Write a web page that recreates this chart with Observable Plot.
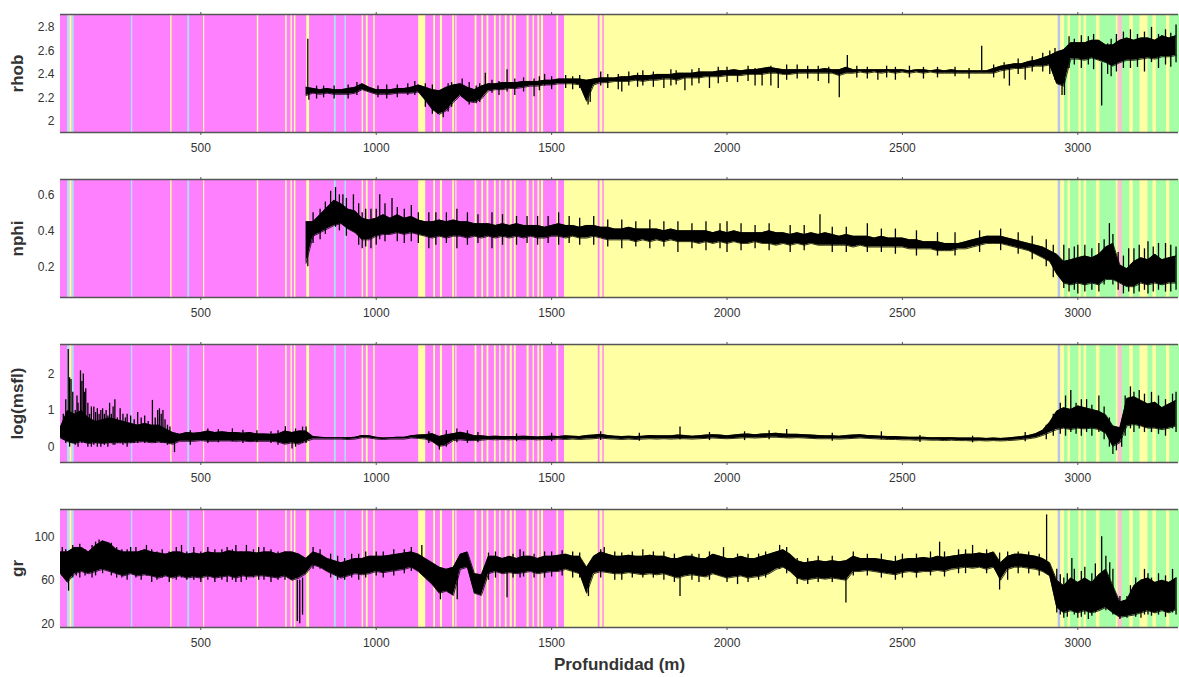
<!DOCTYPE html>
<html><head><meta charset="utf-8">
<script src="https://cdn.jsdelivr.net/npm/d3@7"></script>
<script src="https://cdn.jsdelivr.net/npm/@observablehq/plot@0.6"></script>
<style>
body{margin:0;background:#fff;}
#chart svg{display:block;}
g[aria-label="y-axis label"] text, g[aria-label="x-axis label"] text{font-size:17px;font-weight:bold;fill:#333;}
</style></head><body><div id="chart"></div>
<script>
// depth sampling (m)
const depth = [
100,120,140,160,180,200,220,240,260,280,
300,320,340,360,380,400,420,440,460,480,
500,520,540,560,580,600,620,640,660,680,
700,720,740,760,780,800,820,840,860,880,
900,920,940,960,980,1000,1020,1040,1060,1080,
1100,1120,1140,1160,1180,1200,1220,1240,1260,1280,
1300,1320,1340,1360,1380,1400,1420,1440,1460,1480,
1500,1520,1540,1560,1580,1600,1620,1640,1660,1680,
1700,1720,1740,1760,1780,1800,1820,1840,1860,1880,
1900,1920,1940,1960,1980,2000,2020,2040,2060,2080,
2100,2120,2140,2160,2180,2200,2220,2240,2260,2280,
2300,2320,2340,2360,2380,2400,2420,2440,2460,2480,
2500,2520,2540,2560,2580,2600,2620,2640,2660,2680,
2700,2720,2740,2760,2780,2800,2820,2840,2860,2880,
2900,2920,2940,2960,2980,3000,3020,3040,3060,3080,
3100,3120,3140,3160,3180,3200,3220,3240,3260,3280];
const N = null;
const rhobLo = [
N,N,N,N,N,N,N,N,N,N, N,N,N,N,N,N,N,N,N,N, N,N,N,N,N,N,N,N,N,N,
N,N,N,N,N,2.22,2.24,2.23,2.24,2.23,
2.23,2.23,2.24,2.27,2.25,2.23,2.23,2.23,2.24,2.24,
2.24,2.25,2.18,2.10,2.06,2.09,2.16,2.22,2.17,2.16,
2.19,2.26,2.27,2.27,2.28,2.28,2.29,2.30,2.30,2.31,
2.31,2.32,2.32,2.32,2.31,2.17,2.31,2.33,2.33,2.34,
2.34,2.34,2.35,2.34,2.35,2.35,2.36,2.36,2.35,2.37,
2.37,2.37,2.38,2.38,2.38,2.39,2.39,2.39,2.40,2.40,
2.40,2.41,2.41,2.40,2.40,2.41,2.41,2.41,2.41,2.41,
2.41,2.39,2.41,2.41,2.42,2.41,2.42,2.41,2.42,2.41,
2.42,2.41,2.42,2.41,2.42,2.41,2.41,2.41,2.41,2.41,
2.41,2.41,2.41,2.41,2.43,2.44,2.45,2.45,2.46,2.47,
2.47,2.48,2.32,2.30,2.53,2.53,2.52,2.54,2.52,2.50,
2.47,2.50,2.52,2.52,2.53,2.54,2.53,2.55,2.55,2.56];
const rhobHi = [
N,N,N,N,N,N,N,N,N,N, N,N,N,N,N,N,N,N,N,N, N,N,N,N,N,N,N,N,N,N,
N,N,N,N,N,2.29,2.28,2.27,2.28,2.27,
2.27,2.28,2.29,2.32,2.29,2.27,2.27,2.27,2.28,2.28,
2.29,2.31,2.29,2.27,2.26,2.29,2.31,2.32,2.29,2.27,
2.30,2.32,2.32,2.33,2.33,2.33,2.34,2.34,2.34,2.35,
2.35,2.36,2.36,2.36,2.36,2.35,2.36,2.37,2.37,2.37,
2.38,2.38,2.39,2.39,2.39,2.40,2.40,2.40,2.41,2.41,
2.41,2.42,2.42,2.42,2.43,2.43,2.44,2.43,2.44,2.44,
2.45,2.46,2.45,2.44,2.44,2.44,2.44,2.44,2.44,2.45,
2.44,2.44,2.46,2.44,2.44,2.44,2.44,2.44,2.44,2.44,
2.44,2.43,2.44,2.44,2.43,2.44,2.43,2.44,2.43,2.43,
2.43,2.43,2.43,2.45,2.47,2.48,2.49,2.49,2.51,2.52,
2.54,2.56,2.59,2.61,2.67,2.67,2.67,2.69,2.69,2.65,
2.65,2.69,2.71,2.69,2.71,2.71,2.69,2.73,2.71,2.73];
const rhobSpikes = [[805,2.24,2.70],[808,2.18,2.26],[830,2.19,2.30],[850,2.20,2.30],[880,2.19,2.30],[920,2.19,2.31],[945,2.22,2.33],
[1005,2.20,2.30],[1030,2.19,2.31],[1060,2.20,2.31],[1090,2.22,2.32],[1110,2.22,2.34],[1140,2.12,2.32],[1160,2.06,2.31],
[1175,2.06,2.2],[1191,2.03,2.2],[1205,2.08,2.32],[1215,2.12,2.33],[1245,2.20,2.36],[1265,2.14,2.33],[1285,2.15,2.30],[1295,2.16,2.32],
[1311,2.25,2.41],[1330,2.24,2.35],[1350,2.22,2.34],[1373,2.25,2.44],[1395,2.22,2.36],[1420,2.25,2.37],[1450,2.21,2.36],[1465,2.26,2.38],
[1480,2.3,2.4],[1500,2.27,2.38],[1540,2.28,2.39],[1560,2.27,2.38],[1580,2.28,2.39],[1604,2.14,2.3],[1610,2.16,2.3],[1640,2.3,2.42],
[1660,2.28,2.40],[1690,2.27,2.40],[1700,2.25,2.36],[1720,2.30,2.42],[1745,2.29,2.41],[1760,2.30,2.43],[1790,2.29,2.42],[1820,2.28,2.38],
[1840,2.30,2.44],[1855,2.31,2.43],[1880,2.26,2.38],[1900,2.30,2.44],[1920,2.32,2.45],[1950,2.28,2.40],[1975,2.32,2.46],[2000,2.33,2.46],
[2030,2.33,2.40],[2060,2.34,2.47],[2080,2.30,2.45],[2100,2.3,2.42],[2125,2.30,2.47],[2146,2.28,2.44],[2170,2.35,2.48],[2200,2.36,2.48],
[2230,2.36,2.47],[2260,2.34,2.47],[2290,2.32,2.46],[2320,2.20,2.42],[2343,2.42,2.56],[2370,2.37,2.47],[2400,2.36,2.46],[2430,2.35,2.42],
[2455,2.37,2.47],[2480,2.35,2.46],[2520,2.37,2.47],[2560,2.36,2.46],[2600,2.37,2.46],[2650,2.38,2.46],[2690,2.36,2.45],[2726,2.43,2.64],
[2760,2.37,2.48],[2790,2.36,2.50],[2805,2.30,2.48],[2830,2.40,2.53],[2850,2.35,2.5],[2870,2.42,2.55],[2900,2.42,2.58],[2920,2.40,2.60],
[2935,2.35,2.62],[2955,2.22,2.5],[2962,2.22,2.5],[2975,2.45,2.72],[2990,2.48,2.70],[3010,2.45,2.73],[3030,2.48,2.72],[3045,2.44,2.74],
[3068,2.13,2.5],[3085,2.40,2.66],[3095,2.38,2.70],[3110,2.42,2.74],[3130,2.45,2.76],[3150,2.45,2.78],[3170,2.46,2.74],[3190,2.42,2.76],
[3210,2.5,2.8],[3230,2.45,2.74],[3250,2.48,2.78],[3265,2.46,2.75],[3280,2.5,2.82]];

const nphiLo = [
N,N,N,N,N,N,N,N,N,N, N,N,N,N,N,N,N,N,N,N, N,N,N,N,N,N,N,N,N,N,
N,N,N,N,N,0.22,0.37,0.39,0.41,0.43,
0.44,0.41,0.39,0.35,0.35,0.37,0.38,0.38,0.39,0.38,
0.39,0.38,0.37,0.36,0.37,0.36,0.37,0.37,0.36,0.37,
0.36,0.37,0.36,0.37,0.36,0.37,0.36,0.37,0.36,0.36,
0.37,0.37,0.36,0.37,0.36,0.36,0.37,0.36,0.35,0.35,
0.35,0.35,0.34,0.35,0.34,0.35,0.34,0.35,0.34,0.34,
0.34,0.33,0.34,0.33,0.34,0.33,0.34,0.33,0.33,0.34,
0.33,0.33,0.32,0.33,0.32,0.33,0.32,0.33,0.32,0.32,
0.32,0.32,0.32,0.31,0.32,0.31,0.31,0.31,0.31,0.31,
0.31,0.30,0.30,0.30,0.30,0.29,0.29,0.29,0.30,0.30,
0.31,0.32,0.33,0.33,0.33,0.32,0.31,0.30,0.29,0.27,
0.25,0.23,0.16,0.11,0.10,0.11,0.10,0.11,0.10,0.13,
0.13,0.11,0.09,0.09,0.11,0.10,0.11,0.10,0.11,0.11];
const nphiHi = [
N,N,N,N,N,N,N,N,N,N, N,N,N,N,N,N,N,N,N,N, N,N,N,N,N,N,N,N,N,N,
N,N,N,N,N,0.45,0.45,0.49,0.53,0.57,
0.55,0.52,0.51,0.47,0.46,0.47,0.49,0.47,0.49,0.47,
0.48,0.46,0.45,0.45,0.46,0.45,0.46,0.45,0.45,0.44,
0.44,0.44,0.43,0.44,0.43,0.44,0.43,0.43,0.43,0.42,
0.43,0.44,0.43,0.43,0.42,0.43,0.43,0.42,0.42,0.41,
0.41,0.42,0.41,0.41,0.41,0.41,0.40,0.41,0.40,0.40,
0.40,0.40,0.40,0.39,0.40,0.39,0.40,0.39,0.39,0.39,
0.39,0.40,0.39,0.39,0.38,0.39,0.38,0.39,0.38,0.39,
0.38,0.37,0.38,0.37,0.37,0.37,0.36,0.37,0.36,0.36,
0.36,0.35,0.35,0.34,0.34,0.34,0.33,0.33,0.33,0.34,
0.35,0.36,0.37,0.37,0.37,0.36,0.35,0.34,0.33,0.32,
0.31,0.29,0.27,0.23,0.24,0.25,0.26,0.25,0.27,0.31,
0.33,0.21,0.19,0.23,0.25,0.24,0.27,0.24,0.25,0.26];
const nphiSpikes = [[805,0.2,0.45],[820,0.33,0.50],[840,0.35,0.52],[855,0.38,0.56],[870,0.45,0.62],[884,0.42,0.64],[895,0.40,0.60],
[905,0.45,0.6],[915,0.37,0.58],[935,0.4,0.6],[950,0.32,0.55],[960,0.3,0.5],[970,0.31,0.52],[985,0.3,0.52],[1000,0.32,0.52],
[1010,0.35,0.6],[1025,0.34,0.55],[1045,0.42,0.58],[1060,0.34,0.53],[1080,0.33,0.52],[1100,0.34,0.54],[1120,0.33,0.50],[1150,0.3,0.5],
[1170,0.32,0.50],[1200,0.33,0.50],[1230,0.3,0.52],[1260,0.32,0.50],[1290,0.33,0.49],[1330,0.3,0.5],[1360,0.32,0.49],[1400,0.32,0.48],
[1430,0.33,0.48],[1460,0.32,0.48],[1490,0.33,0.48],[1520,0.32,0.5],[1550,0.33,0.48],[1580,0.32,0.47],[1620,0.32,0.48],[1660,0.31,0.46],
[1700,0.3,0.46],[1740,0.31,0.45],[1780,0.30,0.46],[1820,0.31,0.45],[1860,0.28,0.45],[1900,0.30,0.44],[1940,0.29,0.45],[1980,0.30,0.44],
[2000,0.28,0.45],[2040,0.29,0.44],[2080,0.30,0.43],[2120,0.29,0.44],[2180,0.28,0.43],[2220,0.29,0.43],[2265,0.35,0.49],[2300,0.28,0.42],
[2340,0.28,0.42],[2400,0.28,0.44],[2440,0.28,0.41],[2480,0.27,0.41],[2540,0.26,0.40],[2600,0.26,0.39],[2650,0.26,0.39],[2720,0.28,0.40],
[2780,0.29,0.41],[2830,0.27,0.39],[2870,0.24,0.37],[2910,0.20,0.35],[2930,0.14,0.32],[2960,0.08,0.32],[2975,0.06,0.30],[2990,0.07,0.31],
[3000,0.05,0.32],[3020,0.06,0.32],[3040,0.07,0.30],[3060,0.06,0.33],[3075,0.10,0.35],[3090,0.2,0.44],[3100,0.1,0.38],[3115,0.07,0.28],
[3130,0.05,0.26],[3145,0.06,0.30],[3160,0.05,0.3],[3175,0.06,0.32],[3190,0.07,0.30],[3200,0.05,0.34],[3215,0.06,0.31],[3230,0.07,0.33],
[3250,0.06,0.33],[3265,0.06,0.32],[3280,0.07,0.31]];

const msflLo = [
0.25,0.15,0.10,0.15,0.10,0.12,0.10,0.12,0.12,0.12,
0.12,0.14,0.15,0.12,0.14,0.12,0.08,0.16,0.16,0.16,
0.18,0.16,0.16,0.17,0.17,0.16,0.17,0.15,0.16,0.16,
0.16,0.14,0.08,0.12,0.08,0.16,0.22,0.22,0.22,0.22,
0.22,0.21,0.22,0.26,0.25,0.22,0.21,0.22,0.22,0.22,
0.25,0.24,0.22,0.15,0.02,0.06,0.18,0.20,0.18,0.18,
0.19,0.21,0.20,0.21,0.20,0.21,0.20,0.21,0.20,0.21,
0.21,0.22,0.21,0.22,0.21,0.22,0.23,0.25,0.23,0.22,
0.21,0.22,0.21,0.22,0.23,0.22,0.23,0.22,0.23,0.23,
0.22,0.23,0.24,0.25,0.24,0.23,0.24,0.25,0.26,0.25,
0.26,0.27,0.27,0.26,0.25,0.26,0.25,0.24,0.23,0.23,
0.23,0.22,0.23,0.24,0.25,0.24,0.23,0.22,0.21,0.21,
0.20,0.20,0.19,0.20,0.19,0.19,0.18,0.19,0.18,0.18,
0.17,0.18,0.17,0.18,0.17,0.18,0.19,0.21,0.23,0.26,
0.32,0.40,0.48,0.52,0.48,0.52,0.50,0.52,0.48,0.38,
0.02,0.12,0.58,0.62,0.58,0.52,0.52,0.48,0.52,0.58];
const msflHi = [
0.55,1.00,0.90,1.00,0.80,0.70,0.75,0.80,0.75,0.70,
0.65,0.60,0.65,0.60,0.60,0.50,0.40,0.35,0.40,0.38,
0.40,0.44,0.40,0.42,0.40,0.40,0.38,0.40,0.36,0.36,
0.35,0.36,0.44,0.40,0.44,0.44,0.29,0.27,0.26,0.26,
0.26,0.26,0.27,0.32,0.31,0.27,0.25,0.26,0.27,0.27,
0.31,0.33,0.34,0.37,0.29,0.34,0.37,0.41,0.37,0.31,
0.31,0.29,0.30,0.29,0.29,0.29,0.30,0.29,0.28,0.29,
0.30,0.29,0.31,0.30,0.29,0.32,0.33,0.35,0.32,0.30,
0.29,0.30,0.29,0.30,0.32,0.31,0.31,0.31,0.33,0.32,
0.30,0.31,0.33,0.34,0.33,0.31,0.33,0.35,0.36,0.34,
0.36,0.37,0.38,0.36,0.35,0.35,0.34,0.33,0.32,0.31,
0.31,0.30,0.32,0.33,0.34,0.32,0.31,0.30,0.29,0.29,
0.28,0.27,0.27,0.27,0.26,0.26,0.26,0.26,0.25,0.25,
0.25,0.25,0.24,0.25,0.24,0.25,0.27,0.29,0.32,0.37,
0.46,0.68,0.98,1.08,1.03,1.13,1.08,1.03,0.98,0.88,
0.58,0.53,1.33,1.38,1.28,1.18,1.23,1.08,1.18,1.28];
const msflSpikes = [[108,0.2,0.9],[115,0.1,1.3],[122,0.3,2.67],[126,0.0,1.9],[130,0.1,1.85],[135,0.1,1.5],[142,0.05,1.0],[147,0.1,1.4],
[150,0.0,1.2],[157,0.2,2.09],[161,0.1,1.8],[165,0.2,2.0],[169,0.1,1.5],[172,0.1,1.6],[178,0.0,1.2],[183,0.1,0.9],[188,0.0,1.1],
[195,0.05,1.1],[200,0.1,0.95],[205,0.0,1.05],[210,0.1,0.9],[215,0.0,1.0],[220,0.1,1.05],[225,0.05,0.9],[230,0.1,1.0],[235,0.0,0.85],
[240,0.1,1.2],[245,0.1,0.9],[250,0.05,1.1],[255,0.05,1.3],[262,0.1,0.8],[270,0.1,1.05],[278,0.05,0.9],[285,0.1,0.8],[290,0.0,0.9],
[300,0.1,0.85],[310,0.1,0.75],[320,0.1,0.95],[330,0.15,0.8],[340,0.1,0.85],[350,0.12,0.7],[362,0.2,1.28],[370,0.1,0.8],[377,0.15,1.0],
[382,0.2,1.05],[387,0.1,0.9],[392,0.15,1.0],[398,0.1,0.75],[405,0.05,0.6],[412,0.1,0.55],[425,-0.15,0.3],[470,0.05,0.45],[520,0.1,0.5],
[550,0.12,0.48],[590,0.15,0.5],[620,0.1,0.46],[660,0.12,0.45],[700,0.1,0.42],[720,0.05,0.45],[741,0.1,0.56],[760,-0.05,0.4],
[770,0.0,0.5],[790,0.1,0.55],[800,0.1,0.55],[1150,0.1,0.42],[1180,-0.08,0.2],[1200,0.0,0.45],[1230,0.12,0.5],[1260,0.1,0.45],
[1290,0.12,0.4],[1400,0.15,0.36],[1500,0.15,0.38],[1640,0.18,0.42],[1750,0.16,0.38],[1866,0.2,0.55],[1950,0.18,0.4],[2050,0.18,0.42],
[2120,0.2,0.45],[2170,0.25,0.48],[2300,0.16,0.38],[2440,0.2,0.42],[2550,0.13,0.32],[2700,0.12,0.3],[2850,0.15,0.4],[2910,0.2,0.6],
[2930,0.3,0.9],[2950,0.35,1.2],[2965,0.3,1.4],[2980,0.4,1.55],[2995,0.35,1.2],[3010,0.3,1.3],[3025,0.4,1.3],[3040,0.3,1.15],
[3060,0.4,1.4],[3075,0.2,1.1],[3090,0.0,0.8],[3100,-0.2,0.5],[3110,-0.1,0.4],[3125,0.0,0.7],[3135,0.3,1.4],[3150,0.5,1.65],
[3160,0.4,1.5],[3175,0.5,1.55],[3190,0.4,1.45],[3210,0.4,1.5],[3230,0.35,1.4],[3250,0.3,1.3],[3270,0.5,1.45],[3280,0.4,1.5]];

const grLo = [
66,58,66,68,66,68,70,68,66,64,
66,64,65,64,62,64,62,64,62,63,
62,64,62,63,64,62,64,63,64,64,
63,62,64,60,62,66,74,72,68,65,
62,64,66,65,66,68,67,68,69,70,
72,68,62,56,48,50,46,70,72,48,
46,66,68,66,67,66,67,68,66,67,
68,68,70,68,66,48,66,68,67,66,
66,67,66,65,66,65,66,64,62,64,
65,64,63,66,64,62,63,64,62,63,
64,66,70,72,68,62,60,61,62,61,
62,61,60,68,68,69,68,67,66,65,
67,68,67,68,68,69,68,70,71,72,
71,72,70,72,60,70,72,72,71,70,
68,64,35,30,32,30,32,30,32,35,
30,26,27,28,30,32,30,32,30,33];
const grHi = [
86,86,90,90,86,92,96,94,88,86,
86,86,88,86,85,84,86,86,84,85,
84,86,85,85,87,86,86,86,85,86,
86,84,86,86,84,80,86,84,80,78,
76,78,80,80,82,82,82,83,84,85,
86,84,80,76,72,70,72,84,86,66,
65,82,82,80,82,80,82,82,80,82,
82,83,84,82,82,72,82,86,84,82,
82,83,82,82,83,82,82,80,80,82,
82,80,80,84,82,80,80,82,80,80,
82,84,86,88,84,78,76,77,78,77,
78,77,78,82,80,80,80,79,78,77,
79,80,80,81,80,82,81,82,83,84,
84,85,84,86,76,82,84,84,83,82,
80,76,60,55,62,58,62,58,65,70,
55,40,42,55,60,62,58,60,58,62];
const grSpikes = [[105,64,90],[115,60,88],[123,50,80],[135,62,92],[145,64,90],[155,62,93],[170,64,88],[190,62,92],[200,64,95],
[210,80,97],[220,66,96],[232,82,95],[245,64,94],[260,62,90],[275,62,88],[290,60,88],[300,80,90],[315,62,90],[330,60,86],[345,64,92],
[360,58,88],[375,60,86],[390,62,88],[410,58,86],[430,60,90],[445,62,92],[460,60,86],[480,60,90],[500,58,86],[520,60,90],[540,58,88],
[560,60,88],[575,58,90],[590,60,88],[600,58,92],[615,58,86],[630,60,92],[650,62,88],[665,60,90],[680,60,90],[700,58,88],[720,60,86],
[740,60,86],[760,60,84],[775,22,60],[782,20,60],[790,28,62],[820,70,90],[840,70,88],[870,62,84],[890,60,82],[910,60,80],[930,62,84],
[950,60,84],[970,62,86],[1000,64,86],[1020,62,86],[1050,64,88],[1080,66,88],[1100,68,90],[1130,70,92],[1183,42,70],[1231,42,65],
[1320,60,85],[1340,62,86],[1373,44,75],[1390,62,84],[1410,62,88],[1420,63,86],[1450,62,84],[1480,62,86],[1500,63,86],[1530,64,87],
[1560,62,86],[1580,62,85],[1605,45,72],[1640,62,88],[1650,70,90],[1680,60,86],[1700,60,85],[1730,62,86],[1760,62,88],[1790,62,86],
[1820,60,86],[1850,58,84],[1866,45,70],[1900,60,84],[1920,58,84],[1950,60,86],[1990,68,90],[2000,58,75],[2030,56,84],[2060,58,84],
[2090,60,84],[2110,62,86],[2150,70,92],[2170,66,90],[2200,56,80],[2230,56,80],[2260,58,82],[2300,58,82],[2339,39,70],[2360,64,86],
[2400,64,84],[2440,62,84],[2480,60,82],[2500,62,84],[2540,62,84],[2580,64,86],[2606,75,95],[2620,63,86],[2660,66,88],[2680,66,88],
[2700,75,92],[2740,66,88],[2777,51,85],[2800,60,86],[2830,66,86],[2860,66,86],[2890,64,84],[2911,75,120],[2940,30,70],[2950,28,65],
[2960,25,62],[2970,26,66],[2983,40,80],[2990,28,70],[3000,25,45],[3010,26,68],[3020,28,72],[3030,24,40],[3040,27,66],[3050,30,75],
[3068,50,100],[3080,32,82],[3091,40,76],[3100,28,70],[3120,24,45],[3140,25,45],[3150,28,55],[3165,26,62],[3180,25,60],[3190,28,70],
[3200,28,66],[3210,27,62],[3230,28,66],[3250,26,64],[3270,30,70],[3280,28,62]];

// facies bands: [from, to, code]
const facies = [
[100,1537,"M"],[1537,2962,"Y"],[2962,3290,"G"],
[120,127,"B"],[127,133,"Y"],[134,139,"B"],[302,306,"B"],[414,418,"Y"],[463,468,"B"],[508,511,"Y"],
[661,665,"Y"],[742,746,"Y"],[757,761,"Y"],[767,771,"Y"],[802,810,"Y"],[881,886,"B"],[911,915,"B"],
[960,964,"Y"],[972,977,"Y"],[993,997,"Y"],[1121,1141,"Y"],[1164,1169,"Y"],[1183,1189,"Y"],[1218,1223,"Y"],
[1227,1230,"Y"],[1282,1287,"Y"],[1301,1306,"Y"],[1316,1321,"Y"],[1337,1342,"Y"],[1352,1356,"Y"],[1368,1373,"Y"],
[1382,1388,"Y"],[1394,1399,"Y"],[1430,1436,"Y"],[1447,1451,"Y"],[1461,1466,"Y"],[1471,1477,"Y"],[1515,1520,"Y"],
[1633,1638,"M"],[1646,1650,"M"],
[2944,2951,"L"],[2972,2979,"Y"],[3003,3010,"Y"],[3018,3025,"Y"],[3053,3063,"Y"],[3110,3115,"Y"],[3115,3127,"P"],
[3148,3158,"Y"],[3177,3200,"Y"],[3214,3224,"Y"],[3253,3262,"Y"]];
const faciesCodes = ["M","Y","G","B","L","P"];
const faciesColors = ["#ff80ff","#ffffa3","#a6ffa6","#a8e6f4","#b8c4ee","#f7c3cf"];

const xDomain = [100, 3287];
const xTicks = [500,1000,1500,2000,2500,3000];

const panels = [
  {label:"rhob", lo:rhobLo, hi:rhobHi, spikes:rhobSpikes, domain:[1.905,2.91], ticks:[2,2.2,2.4,2.6,2.8]},
  {label:"nphi", lo:nphiLo, hi:nphiHi, spikes:nphiSpikes, domain:[0.03,0.685], ticks:[0.2,0.4,0.6]},
  {label:"log(msfl)", lo:msflLo, hi:msflHi, spikes:msflSpikes, domain:[-0.42,2.81], ticks:[0,1,2]},
  {label:"gr", lo:grLo, hi:grHi, spikes:grSpikes, domain:[16.6,125], ticks:[20,60,100]}
];

const chart = document.getElementById("chart");
panels.forEach((p, k) => {
  const last = k === panels.length - 1;
  const rows = depth.map((d, i) => ({d, lo: p.lo[i], hi: p.hi[i]}));
  const bands = facies.map(([from, to, code]) => ({from, to, code}));
  const svg = Plot.plot({
    width: 1179,
    height: last ? 182 : 165,
    marginLeft: 60, marginRight: 1, marginTop: 14, marginBottom: last ? 50 : 33,
    style: {fontFamily: "'Liberation Sans', Arial, sans-serif", fontSize: "12px", color: "#333", background: "white"},
    x: {domain: xDomain},
    y: {domain: p.domain},
    color: {domain: faciesCodes, range: faciesColors},
    marks: [
      Plot.rect(bands, {x1: "from", x2: "to", fill: "code"}),
      Plot.areaY(rows, {x: "d", y1: "lo", y2: "hi", fill: "black", clip: true}),
      Plot.line(rows, {x: "d", y: "lo", stroke: "black", strokeWidth: 0.8, clip: true}),
      Plot.line(rows, {x: "d", y: "hi", stroke: "black", strokeWidth: 0.8, clip: true}),
      Plot.ruleX(p.spikes, {x: d => d[0], y1: d => d[1], y2: d => d[2], stroke: "black", strokeWidth: 1.3, clip: true}),
      Plot.ruleY(p.domain, {stroke: "#555", strokeWidth: 1.5}),
      Plot.axisX({anchor: "top", ticks: xTicks, tickSize: 3, tickFormat: () => "", label: null, stroke: "#555"}),
      Plot.axisX({anchor: "bottom", ticks: xTicks, tickSize: 3, tickPadding: 8, stroke: "#555", fill: "#333",
        tickFormat: d => String(d),
        label: last ? "Profundidad (m)" : null, labelAnchor: "center", labelOffset: 42, labelArrow: "none"}),
      Plot.axisY({ticks: p.ticks, tickSize: 0, tickPadding: 6, fill: "#333", tickFormat: d => String(d),
        label: p.label, labelAnchor: "center", labelOffset: 50, labelArrow: "none"})
    ]
  });
  chart.appendChild(svg);
});
</script></body></html>
